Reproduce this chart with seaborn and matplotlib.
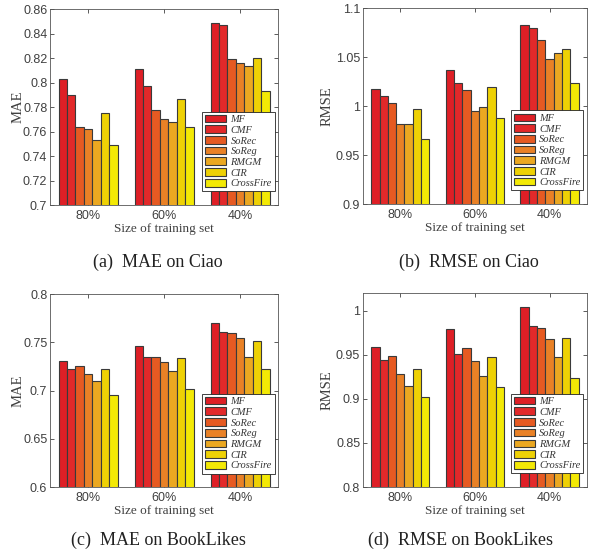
import pandas as pd
import seaborn as sns
import matplotlib.pyplot as plt

sns.set_style('white')
plt.rcParams['font.family'] = ['Liberation Sans', 'DejaVu Sans']

SPLITS = ['80%', '60%', '40%']
METHODS = ['MF', 'CMF', 'SoRec', 'SoReg', 'RMGM', 'CIR', 'CrossFire']
COLORS = ['#de1f26', '#e2292a', '#e65a22', '#e98126', '#eba821', '#eed105', '#f3e905']

# one row per method, one value per split (80%, 60%, 40%)
mae_ciao = [
    [0.803, 0.811, 0.849],
    [0.790, 0.797, 0.847],
    [0.764, 0.778, 0.819],
    [0.762, 0.770, 0.816],
    [0.753, 0.768, 0.814],
    [0.775, 0.787, 0.820],
    [0.749, 0.764, 0.793],
]
rmse_ciao = [
    [1.017, 1.037, 1.083],
    [1.010, 1.024, 1.080],
    [1.003, 1.016, 1.067],
    [0.982, 0.995, 1.048],
    [0.982, 0.999, 1.054],
    [0.997, 1.019, 1.058],
    [0.966, 0.988, 1.024],
]
mae_booklikes = [
    [0.731, 0.746, 0.770],
    [0.722, 0.735, 0.761],
    [0.725, 0.735, 0.760],
    [0.717, 0.730, 0.755],
    [0.710, 0.720, 0.735],
    [0.722, 0.734, 0.751],
    [0.695, 0.702, 0.722],
]
rmse_booklikes = [
    [0.959, 0.979, 1.004],
    [0.944, 0.951, 0.983],
    [0.949, 0.958, 0.980],
    [0.928, 0.943, 0.968],
    [0.915, 0.926, 0.947],
    [0.934, 0.948, 0.969],
    [0.902, 0.913, 0.924],
]

GREY = '#404040'


def to_frame(values):
    rows = []
    for method, vals in zip(METHODS, values):
        for split, v in zip(SPLITS, vals):
            rows.append({'Split': split, 'Method': method, 'Value': v})
    return pd.DataFrame(rows)


def panel(fig, rect, values, ylabel, ylim, yticks, caption, cap_xy, ylab_x):
    ax = fig.add_axes(rect)
    df = to_frame(values)
    sns.barplot(df, x='Split', y='Value', hue='Method', hue_order=METHODS,
                order=SPLITS, palette=COLORS, width=0.78, edgecolor='#3a3a3a',
                linewidth=0.8, saturation=1, ax=ax)
    ax.set_xlim(-0.5, 2.5)
    ax.set_ylim(*ylim)
    ax.set_yticks(yticks)
    ax.set_yticklabels([f'{t:g}' for t in yticks])
    ax.tick_params(direction='in', length=3, width=0.6, colors=GREY,
                   labelsize=9, top=True, right=True, left=True, bottom=True)
    ax.tick_params(axis='y', pad=2)
    for s in ax.spines.values():
        s.set_color('#555555')
        s.set_linewidth(0.6)
    ax.set_xlabel('Size of training set', family='Liberation Serif',
                  fontsize=9.5, color=GREY, labelpad=1)
    ax.set_ylabel(ylabel, family='Liberation Serif', fontsize=10.5, color=GREY)
    ax.yaxis.set_label_coords(ylab_x, 0.5)
    handles, _ = ax.get_legend_handles_labels()
    leg = ax.legend(handles, METHODS, loc='lower right',
                    bbox_to_anchor=(0.985, 0.07), fancybox=False,
                    prop={'family': 'Liberation Serif', 'style': 'italic', 'size': 7.5},
                    framealpha=1, edgecolor='#222222', handlelength=2.0,
                    handleheight=0.75, labelspacing=0.12, borderpad=0.3,
                    handletextpad=0.4, borderaxespad=0)
    leg.get_frame().set_linewidth(0.6)
    for t in leg.get_texts():
        t.set_color('#333333')
    fig.text(cap_xy[0] / 597, 1 - cap_xy[1] / 556, caption, ha='center',
             va='center', family='Liberation Serif', fontsize=13,
             color='#222222')
    return ax


def main():
    fig = plt.figure(figsize=(5.97, 5.56), dpi=100)
    panel(fig, [0.084, 0.631, 0.382, 0.3525], mae_ciao, 'MAE', (0.7, 0.86),
          [0.7, 0.72, 0.74, 0.76, 0.78, 0.8, 0.82, 0.84, 0.86],
          '(a)  MAE on Ciao', (158, 262), -0.114)
    panel(fig, [0.608, 0.633, 0.375, 0.3525], rmse_ciao, 'RMSE', (0.9, 1.1),
          [0.9, 0.95, 1.0, 1.05, 1.1], '(b)  RMSE on Ciao', (469, 262), -0.13)
    panel(fig, [0.084, 0.124, 0.382, 0.347], mae_booklikes, 'MAE', (0.6, 0.8),
          [0.6, 0.65, 0.7, 0.75, 0.8], '(c)  MAE on BookLikes', (158, 540), -0.114)
    panel(fig, [0.608, 0.124, 0.375, 0.349], rmse_booklikes, 'RMSE', (0.8, 1.02),
          [0.8, 0.85, 0.9, 0.95, 1.0], '(d)  RMSE on BookLikes', (461, 540), -0.13)
    fig.savefig('out.png', dpi=100)
    plt.close(fig)


if __name__ == '__main__':
    main()
